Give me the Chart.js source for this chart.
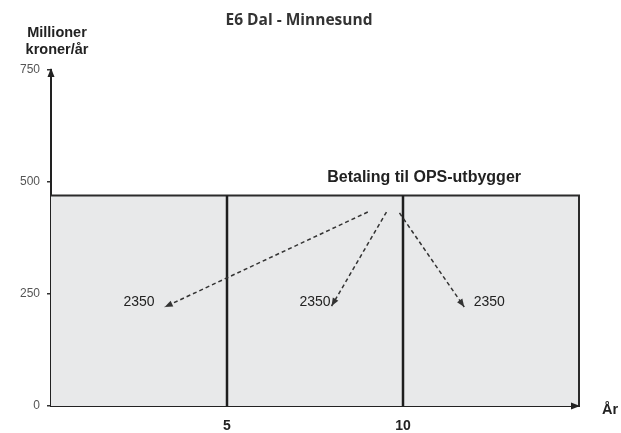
<!DOCTYPE html>
<html>
<head>
<meta charset="utf-8">
<script src="https://cdn.jsdelivr.net/npm/chart.js@4.4.1/dist/chart.umd.min.js"></script>
<style>
  html, body { margin: 0; padding: 0; background: #fff; }
  #wrap { width: 621px; height: 433px; }
</style>
</head>
<body>
<div id="wrap"><canvas id="chart" width="621" height="433"></canvas></div>
<script>
"use strict";

// --- data ---
var yearTicks = [5, 10];
var valueTicks = [0, 250, 500, 750];
var periodEnd = 15;
var annualPayment = 470;
var dividerYears = [5, 10];
var shareTexts = ['2350', '2350', '2350'];
var shareX = [2.5, 7.5, 12.45];
var shareY = 232;
var arrowFromX = [9.0, 9.53, 9.9];
var arrowFromY = [433, 433, 431];
var arrowToX = [3.23, 7.97, 11.74];
var arrowToY = [221, 223, 221];
var paymentLabel = 'Betaling til OPS-utbygger';
var paymentLabelX = 10.6;
var paymentLabelY = 509;

var SANS = '"Liberation Sans", Arial, sans-serif';
Chart.defaults.font.family = SANS;

var datasets = [];
// payment block (drawn first, underneath)
datasets.push({
  data: [{x: 0, y: annualPayment}, {x: periodEnd, y: annualPayment}, {x: periodEnd, y: 0}],
  borderColor: '#2b2b2b', borderWidth: 2, backgroundColor: '#e8e9ea',
  fill: 'origin', pointRadius: 0, clip: false, tension: 0, order: 5
});
dividerYears.forEach(function(yr) {
  datasets.push({
    data: [{x: yr, y: 0}, {x: yr, y: annualPayment}],
    borderColor: '#1e1e1e', borderWidth: 2.5, pointRadius: 0, fill: false, clip: false, order: 2
  });
});
arrowFromX.forEach(function(x0, i) {
  datasets.push({
    data: [{x: x0, y: arrowFromY[i]}, {x: arrowToX[i], y: arrowToY[i]}],
    borderColor: '#333', borderWidth: 1.5, borderDash: [4, 3],
    pointRadius: 0, fill: false, order: 1, arrow: true
  });
});

function tri(ctx, x, y, ang, len, half) {
  var bx = x - len * Math.cos(ang), by = y - len * Math.sin(ang);
  ctx.beginPath();
  ctx.moveTo(x, y);
  ctx.lineTo(bx + half * Math.sin(ang), by - half * Math.cos(ang));
  ctx.lineTo(bx - half * Math.sin(ang), by + half * Math.cos(ang));
  ctx.closePath();
  ctx.fill();
}

var extras = {
  id: 'extras',
  afterDraw: function(chart) {
    var ctx = chart.ctx, xs = chart.scales.x, ys = chart.scales.y, ca = chart.chartArea;
    ctx.save();
    ctx.fillStyle = '#333';
    // arrowheads on dashed lines
    chart.data.datasets.forEach(function(ds) {
      if (!ds.arrow) return;
      var p0 = ds.data[0], p1 = ds.data[1];
      var x0 = xs.getPixelForValue(p0.x), y0 = ys.getPixelForValue(p0.y);
      var x1 = xs.getPixelForValue(p1.x), y1 = ys.getPixelForValue(p1.y);
      tri(ctx, x1, y1, Math.atan2(y1 - y0, x1 - x0), 8, 3.2);
    });
    // axis arrowheads
    ctx.fillStyle = '#222';
    tri(ctx, ca.left, ys.getPixelForValue(750) - 2, -Math.PI / 2, 9, 3.5);
    tri(ctx, xs.getPixelForValue(periodEnd) + 1, ca.bottom, 0, 9, 3.5);

    // texts
    ctx.textAlign = 'center';
    ctx.textBaseline = 'middle';
    ctx.fillStyle = '#333';
    ctx.font = 'bold 15.5px "Open Sans", sans-serif';
    ctx.fillText('E6 Dal - Minnesund', 299, 21);

    ctx.fillStyle = '#222';
    ctx.font = 'bold 14.5px ' + SANS;
    ctx.fillText('Millioner', 57, 33);
    ctx.fillText('kroner/år', 57, 50);
    ctx.fillText('År', 610, 410);
    ctx.font = 'bold 16px ' + SANS;
    ctx.fillText(paymentLabel, xs.getPixelForValue(paymentLabelX), ys.getPixelForValue(paymentLabelY));

    ctx.font = '14px ' + SANS;
    shareTexts.forEach(function(t, i) {
      ctx.fillText(t, xs.getPixelForValue(shareX[i]), ys.getPixelForValue(shareY));
    });
    ctx.restore();
  }
};

new Chart(document.getElementById('chart'), {
  type: 'line',
  data: {datasets: datasets},
  options: {
    responsive: false,
    animation: false,
    layout: {padding: {top: 70, right: 42, left: 0, bottom: 0}},
    plugins: {legend: {display: false}, tooltip: {enabled: false}},
    scales: {
      x: {
        type: 'linear', min: 0, max: periodEnd,
        afterBuildTicks: function(s) { s.ticks = yearTicks.map(function(v) { return {value: v}; }); },
        afterFit: function(s) { s.height = 27; },
        grid: {display: false, drawTicks: false},
        border: {display: true, color: '#222', width: 2},
        ticks: {color: '#222', padding: 12, maxRotation: 0, font: {size: 14, weight: 'bold'}}
      },
      y: {
        type: 'linear', min: 0, max: 750,
        afterBuildTicks: function(s) { s.ticks = valueTicks.map(function(v) { return {value: v}; }); },
        afterFit: function(s) { s.width = 51; },
        grid: {display: true, drawOnChartArea: false, drawTicks: true, tickLength: 4, color: '#333', lineWidth: 1.5},
        border: {display: true, color: '#222', width: 2},
        ticks: {color: '#555', padding: 7, font: {size: 12}}
      }
    }
  },
  plugins: [extras]
});
</script>
</body>
</html>
